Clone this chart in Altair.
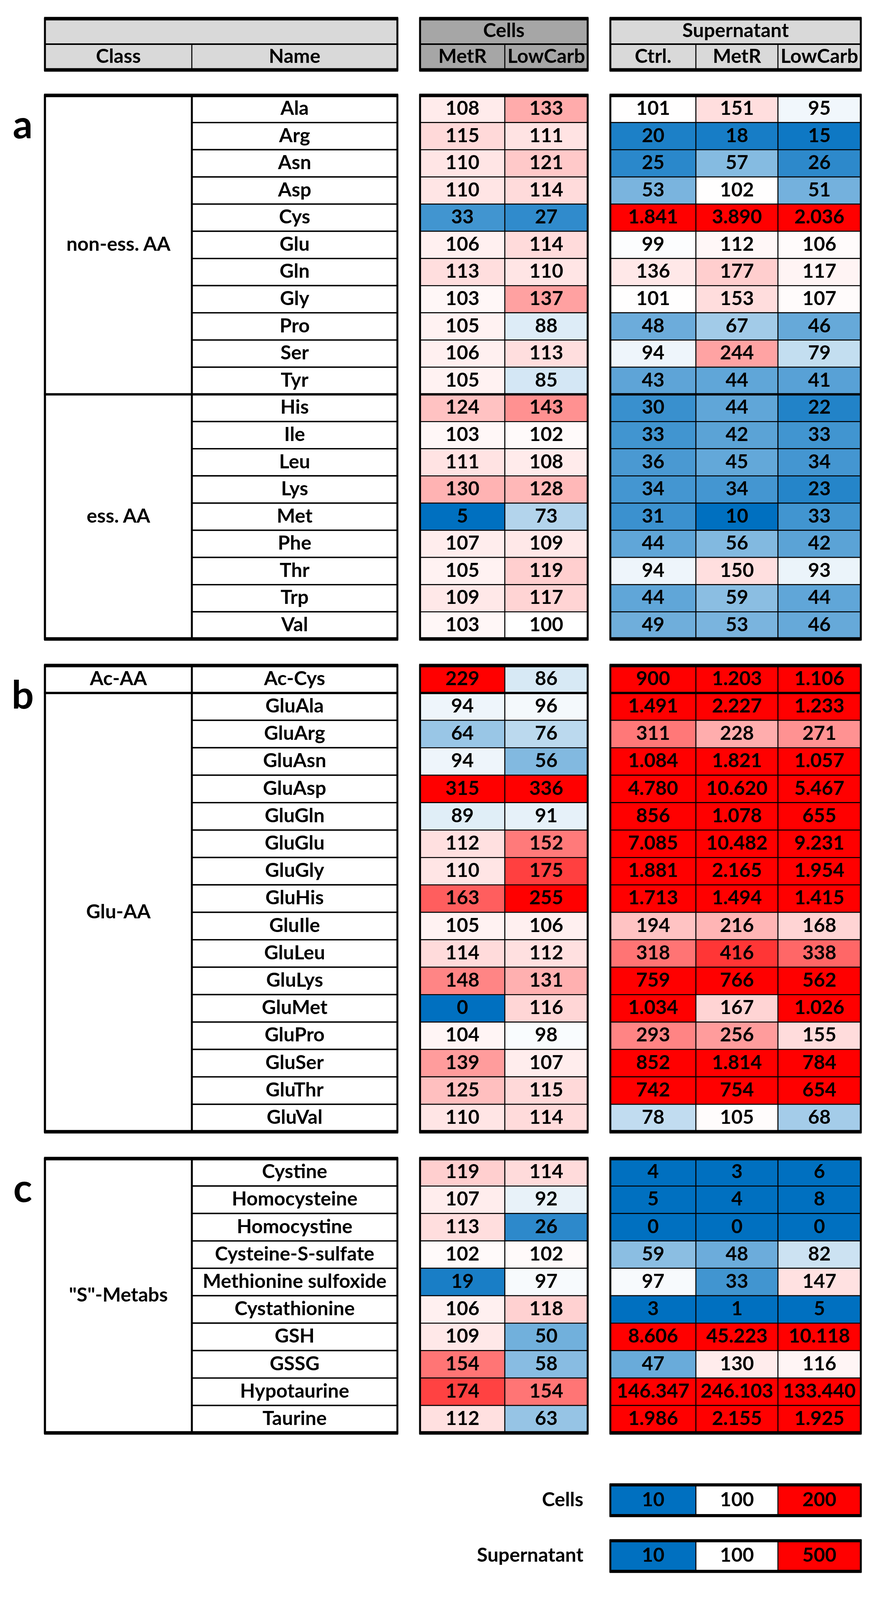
import altair as alt
import pandas as pd

# ---------------- data ----------------
names_a = ["Ala", "Arg", "Asn", "Asp", "Cys", "Glu", "Gln", "Gly", "Pro", "Ser", "Tyr",
           "His", "Ile", "Leu", "Lys", "Met", "Phe", "Thr", "Trp", "Val"]
classes_a = ["non-ess. AA"] * 11 + ["ess. AA"] * 9
cells_metr_a = [108, 115, 110, 110, 33, 106, 113, 103, 105, 106, 105, 124, 103, 111, 130, 5, 107, 105, 109, 103]
cells_lowcarb_a = [133, 111, 121, 114, 27, 114, 110, 137, 88, 113, 85, 143, 102, 108, 128, 73, 109, 119, 117, 100]
sup_ctrl_a = [101, 20, 25, 53, 1841, 99, 136, 101, 48, 94, 43, 30, 33, 36, 34, 31, 44, 94, 44, 49]
sup_metr_a = [151, 18, 57, 102, 3890, 112, 177, 153, 67, 244, 44, 44, 42, 45, 34, 10, 56, 150, 59, 53]
sup_lowcarb_a = [95, 15, 26, 51, 2036, 106, 117, 107, 46, 79, 41, 22, 33, 34, 23, 33, 42, 93, 44, 46]

names_b = ["Ac-Cys", "GluAla", "GluArg", "GluAsn", "GluAsp", "GluGln", "GluGlu", "GluGly", "GluHis",
           "GluIle", "GluLeu", "GluLys", "GluMet", "GluPro", "GluSer", "GluThr", "GluVal"]
classes_b = ["Ac-AA"] + ["Glu-AA"] * 16
cells_metr_b = [229, 94, 64, 94, 315, 89, 112, 110, 163, 105, 114, 148, 0, 104, 139, 125, 110]
cells_lowcarb_b = [86, 96, 76, 56, 336, 91, 152, 175, 255, 106, 112, 131, 116, 98, 107, 115, 114]
sup_ctrl_b = [900, 1491, 311, 1084, 4780, 856, 7085, 1881, 1713, 194, 318, 759, 1034, 293, 852, 742, 78]
sup_metr_b = [1203, 2227, 228, 1821, 10620, 1078, 10482, 2165, 1494, 216, 416, 766, 167, 256, 1814, 754, 105]
sup_lowcarb_b = [1106, 1233, 271, 1057, 5467, 655, 9231, 1954, 1415, 168, 338, 562, 1026, 155, 784, 654, 68]

names_c = ["Cystine", "Homocysteine", "Homocystine", "Cysteine-S-sulfate", "Methionine sulfoxide",
           "Cystathionine", "GSH", "GSSG", "Hypotaurine", "Taurine"]
classes_c = ['"S"-Metabs'] * 10
cells_metr_c = [119, 107, 113, 102, 19, 106, 109, 154, 174, 112]
cells_lowcarb_c = [114, 92, 26, 102, 97, 118, 50, 58, 154, 63]
sup_ctrl_c = [4, 5, 0, 59, 97, 3, 8606, 47, 146347, 1986]
sup_metr_c = [3, 4, 0, 48, 33, 1, 45223, 130, 246103, 2155]
sup_lowcarb_c = [6, 8, 0, 82, 147, 5, 10118, 116, 133440, 1925]

cells_groups = ["MetR", "LowCarb"]
sup_groups = ["Ctrl.", "MetR", "LowCarb"]
panel_letters = ["a", "b", "c"]
legend_names = ["Cells", "Supernatant"]
cells_legend_values = [10, 100, 200]
sup_legend_values = [10, 100, 500]

# ---------------- layout (reference pixel grid) ----------------
PAGE_W, PAGE_H = 2247, 4483
VSCALE = 0.905   # the photographed viewport is shorter than the window; compress vertically to fit
X_CLASS = (115, 491)
X_NAME = (491, 1017)
X_CELLS = [1075, 1292, 1504]
X_SUP = [1562, 1781, 1991, 2203]
Y_HEAD = (52, 124, 197)
SPANS = [(269, 1807), (1882, 3201), (3277, 4053)]
Y_LEG = [(4200, 4287), (4358, 4445)]
LEG_LABEL_X = 1493
LETTER_X = 58
FONT = "Lato"
FS = 50


def fmt(v):
    return f"{v:,}".replace(",", ".")


sections = [
    (names_a, classes_a, [cells_metr_a, cells_lowcarb_a], [sup_ctrl_a, sup_metr_a, sup_lowcarb_a]),
    (names_b, classes_b, [cells_metr_b, cells_lowcarb_b], [sup_ctrl_b, sup_metr_b, sup_lowcarb_b]),
    (names_c, classes_c, [cells_metr_c, cells_lowcarb_c], [sup_ctrl_c, sup_metr_c, sup_lowcarb_c]),
]

cells_rows, sup_rows, name_rows, class_rows, outline_rows, rule_rows, letter_rows = [], [], [], [], [], [], []
blocks = [(X_CLASS[0], X_NAME[1]), (X_CELLS[0], X_CELLS[-1]), (X_SUP[0], X_SUP[-1])]

for si, (names, classes, cvals, svals) in enumerate(sections):
    top, bot = SPANS[si]
    n = len(names)
    h = (bot - top) / n
    for i, nm in enumerate(names):
        y0, y1 = top + i * h, top + (i + 1) * h
        name_rows.append(dict(x0=X_NAME[0], x1=X_NAME[1], y0=y0, y1=y1, label=nm))
        for j, col in enumerate(cvals):
            cells_rows.append(dict(x0=X_CELLS[j], x1=X_CELLS[j + 1], y0=y0, y1=y1,
                                   value=col[i], label=fmt(col[i])))
        for j, col in enumerate(svals):
            sup_rows.append(dict(x0=X_SUP[j], x1=X_SUP[j + 1], y0=y0, y1=y1,
                                 value=col[i], label=fmt(col[i])))
    start = 0
    for i in range(1, n + 1):
        if i == n or classes[i] != classes[start]:
            y0, y1 = top + start * h, top + i * h
            class_rows.append(dict(x0=X_CLASS[0], x1=X_CLASS[1], y0=y0, y1=y1, label=classes[start]))
            if i < n:
                for bx0, bx1 in blocks:
                    rule_rows.append(dict(x0=bx0, x1=bx1, y=y1, sw=6))
            start = i
    for bx0, bx1 in blocks:
        outline_rows.append(dict(x0=bx0, x1=bx1, y0=top, y1=bot))
        rule_rows.append(dict(x0=bx0 - 2, x1=bx1 + 2, y=top, sw=9))
        rule_rows.append(dict(x0=bx0 - 2, x1=bx1 + 2, y=bot, sw=9))
    letter_rows.append(dict(x=LETTER_X, y=top + 1.15 * h, label=panel_letters[si]))

head_rows = [
    dict(x0=X_CLASS[0], x1=X_NAME[1], y0=Y_HEAD[0], y1=Y_HEAD[1], label="", fill="#D9D9D9"),
    dict(x0=X_CLASS[0], x1=X_CLASS[1], y0=Y_HEAD[1], y1=Y_HEAD[2], label="Class", fill="#D9D9D9"),
    dict(x0=X_NAME[0], x1=X_NAME[1], y0=Y_HEAD[1], y1=Y_HEAD[2], label="Name", fill="#D9D9D9"),
    dict(x0=X_CELLS[0], x1=X_CELLS[-1], y0=Y_HEAD[0], y1=Y_HEAD[1], label="Cells", fill="#A6A6A6"),
    dict(x0=X_SUP[0], x1=X_SUP[-1], y0=Y_HEAD[0], y1=Y_HEAD[1], label="Supernatant", fill="#D9D9D9"),
]
for j, g in enumerate(cells_groups):
    head_rows.append(dict(x0=X_CELLS[j], x1=X_CELLS[j + 1], y0=Y_HEAD[1], y1=Y_HEAD[2], label=g, fill="#A6A6A6"))
for j, g in enumerate(sup_groups):
    head_rows.append(dict(x0=X_SUP[j], x1=X_SUP[j + 1], y0=Y_HEAD[1], y1=Y_HEAD[2], label=g, fill="#D9D9D9"))
for bx0, bx1 in blocks:
    outline_rows.append(dict(x0=bx0, x1=bx1, y0=Y_HEAD[0], y1=Y_HEAD[2]))
    rule_rows.append(dict(x0=bx0 - 2, x1=bx1 + 2, y=Y_HEAD[0], sw=9))
    rule_rows.append(dict(x0=bx0 - 2, x1=bx1 + 2, y=Y_HEAD[2], sw=9))
    rule_rows.append(dict(x0=bx0, x1=bx1, y=Y_HEAD[1], sw=4))

leg_label_rows = []
for k, (vals, target) in enumerate([(cells_legend_values, cells_rows), (sup_legend_values, sup_rows)]):
    y0, y1 = Y_LEG[k]
    for j, v in enumerate(vals):
        target.append(dict(x0=X_SUP[j], x1=X_SUP[j + 1], y0=y0, y1=y1, value=v, label=fmt(v)))
    outline_rows.append(dict(x0=X_SUP[0], x1=X_SUP[-1], y0=y0, y1=y1))
    rule_rows.append(dict(x0=X_SUP[0] - 2, x1=X_SUP[-1] + 2, y=y0, sw=8))
    rule_rows.append(dict(x0=X_SUP[0] - 2, x1=X_SUP[-1] + 2, y=y1, sw=8))
    leg_label_rows.append(dict(x=LEG_LABEL_X, y=(y0 + y1) / 2, label=legend_names[k]))


def frame(rows):
    df = pd.DataFrame(rows)
    if "x0" in df:
        df["xc"] = (df["x0"] + df["x1"]) / 2
        if "y0" in df:
            df["yc"] = (df["y0"] + df["y1"]) / 2
    return df


cells_df = frame(cells_rows)
sup_df = frame(sup_rows)
name_df = frame(name_rows)
class_df = frame(class_rows)
head_df = frame(head_rows)
outline_df = frame(outline_rows)
rule_df = pd.DataFrame(rule_rows)
letter_df = pd.DataFrame(letter_rows)
leglab_df = pd.DataFrame(leg_label_rows)

xs = alt.Scale(domain=[8, PAGE_W - 8], nice=False, zero=False)
ys = alt.Scale(domain=[8, PAGE_H - 8], nice=False, zero=False, reverse=True)


def rect_enc(**kw):
    return dict(x=alt.X("x0:Q", scale=xs, axis=None), x2="x1:Q",
                y=alt.Y("y0:Q", scale=ys, axis=None), y2="y1:Q", **kw)


def text_layer(df, xf="xc", yf="yc", size=FS, align="center", weight="bold"):
    return alt.Chart(df).mark_text(font=FONT, fontWeight=weight, fontSize=size, align=align,
                                   baseline="middle", color="black").encode(
        x=alt.X(f"{xf}:Q", scale=xs, axis=None),
        y=alt.Y(f"{yf}:Q", scale=ys, axis=None),
        text="label:N")


cells_scale = alt.Scale(domain=[10, 100, 200], range=["#0070C0", "#FFFFFF", "#FF0000"],
                        interpolate="rgb", clamp=True)
sup_scale = alt.Scale(domain=[10, 100, 500], range=["#0070C0", "#FFFFFF", "#FF0000"],
                      interpolate="rgb", clamp=True)

cells_rect = alt.Chart(cells_df).mark_rect(stroke="black", strokeWidth=2.5).encode(
    **rect_enc(color=alt.Color("value:Q", scale=cells_scale, legend=None)))
sup_rect = alt.Chart(sup_df).mark_rect(stroke="black", strokeWidth=2.5).encode(
    **rect_enc(color=alt.Color("value:Q", scale=sup_scale, legend=None)))
head_rect = alt.Chart(head_df).mark_rect(stroke="black", strokeWidth=2.5).encode(
    **rect_enc(color=alt.Color("fill:N", scale=None)))
name_rect = alt.Chart(name_df).mark_rect(fill="white", stroke="black", strokeWidth=3.5).encode(**rect_enc())
class_rect = alt.Chart(class_df).mark_rect(fill="white", stroke="black", strokeWidth=5).encode(**rect_enc())
outline = alt.Chart(outline_df).mark_rect(fillOpacity=0, stroke="black", strokeWidth=5).encode(**rect_enc())
rules = alt.Chart(rule_df).mark_rule(color="black").encode(
    x=alt.X("x0:Q", scale=xs, axis=None), x2="x1:Q",
    y=alt.Y("y:Q", scale=ys, axis=None),
    strokeWidth=alt.StrokeWidth("sw:Q", scale=None))

chart = alt.layer(
    head_rect, name_rect, class_rect, cells_rect, sup_rect, outline, rules,
    text_layer(cells_df), text_layer(sup_df), text_layer(name_df), text_layer(class_df),
    text_layer(head_df),
    text_layer(letter_df, xf="x", yf="y", size=100),
    text_layer(leglab_df, xf="x", yf="y", align="right"),
).resolve_scale(color="independent").properties(
    width=PAGE_W - 16, height=int((PAGE_H - 16) * VSCALE), padding=0, autosize="none", background="white"
).configure_view(stroke=None)

chart.save("out.html", embed_options={"renderer": "svg", "actions": False})
